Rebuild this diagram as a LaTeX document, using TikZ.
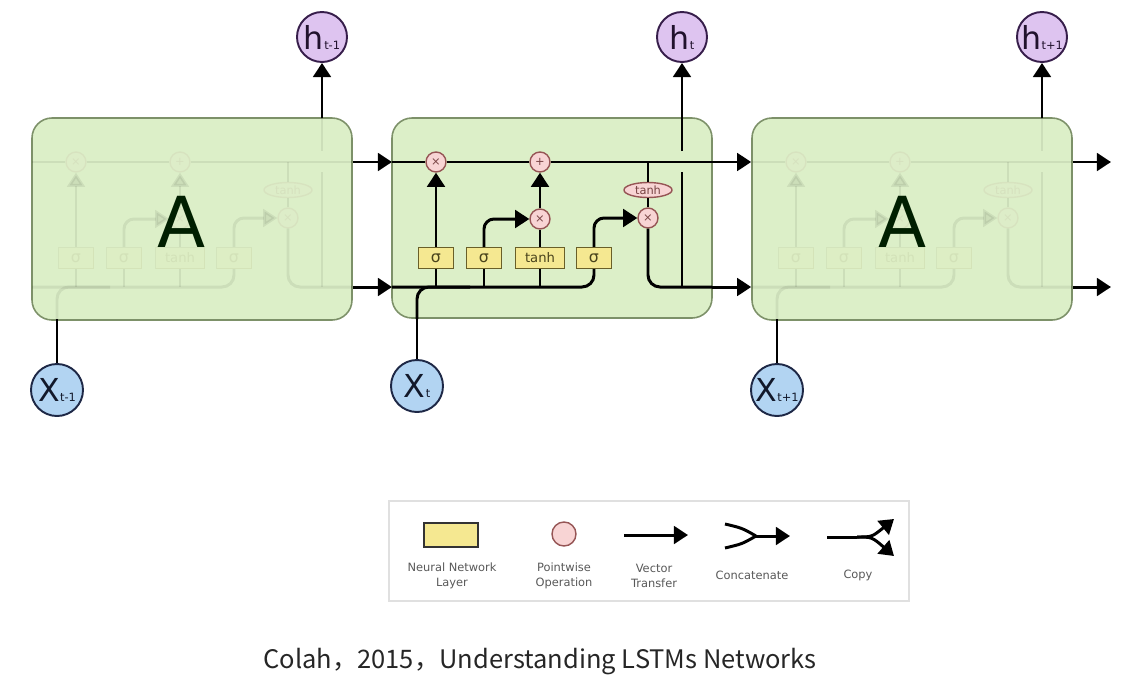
\documentclass[tikz,border=0pt]{standalone}
\usepackage{fontspec}
\setmainfont{DejaVu Sans}
\newfontfamily\cjk{Noto Sans CJK SC}
\usetikzlibrary{arrows.meta,shapes.geometric}
\newlength\pxu \setlength\pxu{0.02cm}
\definecolor{cellfill}{RGB}{220,239,200}
\definecolor{celldraw}{RGB}{125,145,105}
\definecolor{gatefill}{RGB}{245,232,145}
\definecolor{gatedraw}{RGB}{105,95,40}
\definecolor{opfill}{RGB}{248,212,212}
\definecolor{opdraw}{RGB}{150,85,85}
\definecolor{hfill}{RGB}{222,196,240}
\definecolor{hdraw}{RGB}{55,30,75}
\definecolor{xfill}{RGB}{178,212,242}
\definecolor{xdraw}{RGB}{30,40,70}
\tikzset{
  wire/.style={line width=1.7pt, draw=black},
  arr/.style={wire, -{Triangle[length=8pt,width=10pt]}},
  cellbox/.style={draw=celldraw, line width=0.9pt, fill=cellfill, rounded corners=20\pxu,
    minimum width=320\pxu, minimum height=202\pxu, inner sep=0},
  gate/.style={draw=gatedraw, line width=0.8pt, fill=gatefill, minimum width=35\pxu,
    minimum height=21\pxu, inner sep=0, text=gatedraw!70!black, font=\fontsize{9}{9}\selectfont},
  pw/.style={circle, draw=opdraw, line width=0.8pt, fill=opfill, minimum size=20\pxu,
    inner sep=0, text=opdraw!80!black, font=\fontsize{6.5}{6.5}\selectfont},
  tanhe/.style={ellipse, draw=opdraw, fill=opfill, line width=0.8pt, minimum width=48\pxu,
    minimum height=15\pxu, inner sep=0, text=opdraw!80!black, font=\fontsize{6.5}{6.5}\selectfont},
  hc/.style={circle, draw=hdraw, fill=hfill, line width=1.1pt, minimum size=50\pxu, inner sep=0,
    text=hdraw!60!black},
  xc/.style={circle, draw=xdraw, fill=xfill, line width=1.1pt, minimum size=52\pxu, inner sep=0,
    text=xdraw!60!black},
  bigA/.style={font=\fontsize{40}{40}\selectfont, text=black!88!green, inner sep=0},
  legtext/.style={font=\fontsize{6.5}{8.5}\selectfont, text=black!65, align=center, inner sep=0},
}
\newcommand\hlab[2]{{\fontsize{18}{18}\selectfont #1}\kern0.2pt{\fontsize{6.5}{6.5}\selectfont #2}}
\newcommand\cellinner{%
  \node[pw] (mf) at (436,162) {×};
  \node[pw] (ad) at (540,162) {+};
  \node[pw] (mi) at (540,219) {×};
  \node[pw] (mo) at (648,218) {×};
  \node[tanhe] (th) at (648,190) {tanh};
  \node[gate] (gf) at (436,258) {σ};
  \node[gate] (gi) at (484,258) {σ};
  \node[gate, minimum width=49\pxu, font=\fontsize{7.5}{7.5}\selectfont] (gc) at (540,258) {tanh};
  \node[gate] (go) at (594,258) {σ};
  \coordinate (cl) at (392,162);
  \coordinate (cr) at (712,162);
  \coordinate (hl) at (392,287);
  \coordinate (hr) at (712,287);
  \coordinate (xin) at (417,319);
  \coordinate (hup) at (682,118);
  \coordinate (hgapa) at (682,172);
  \coordinate (hgapb) at (682,151);
  \draw[wire] (cl) -- (mf.west);
  \draw[wire] (mf.east) -- (ad.west);
  \draw[wire] (ad.east) -- (cr);
  \draw[wire, rounded corners=12\pxu] (hl) -| (go.south);
  \draw[wire, rounded corners=12\pxu] (xin) |- (470,287);
  \draw[wire] (gf.south) -- (gf.south |- hl);
  \draw[wire] (gi.south) -- (gi.south |- hl);
  \draw[wire] (gc.south) -- (gc.south |- hl);
  \draw[arr] (gf) -- (mf);
  \draw[arr, rounded corners=10\pxu] (gi.north) |- (mi.west);
  \draw[wire] (gc) -- (mi);
  \draw[arr] (mi) -- (ad);
  \draw[arr, rounded corners=10\pxu] (go.north) |- (mo.west);
  \draw[wire] (mo.north |- cl) -- (th.north);
  \draw[wire] (th.south) -- (mo.north);
  \draw[wire, rounded corners=12\pxu] (mo.south) |- (hr);
  \draw[wire] (hup |- hr) -- (hgapa);
  \draw[wire] (hgapb) -- (hup);
}
\begin{document}
\begin{tikzpicture}[x=0.02cm, y=-0.02cm]
\useasboundingbox (0,0) rectangle (1144,677);
% cells
\node[cellbox] (Lcell) at (192,219) {};
\node[cellbox, minimum height=200\pxu] (Ccell) at (552,218) {};
\node[cellbox] (Rcell) at (912,219) {};
% faded internals
\begin{scope}[shift={(-360,0)}, name prefix=L-, opacity=0.07]
  \cellinner
\end{scope}
\begin{scope}[shift={(360,0)}, name prefix=R-, opacity=0.07]
  \cellinner
\end{scope}
\node[bigA] (LA) at (182,222) {A};
\node[bigA] (RA) at (903,222) {A};
% center cell
\cellinner
% inputs / outputs
\node[hc] (hm) at (322,37) {\hlab{h}{t-1}};
\node[hc] (ht) at (682,37) {\hlab{h}{t}};
\node[hc] (hp) at (1042,37) {\hlab{h}{t+1}};
\node[xc] (xm) at (57,390) {\hlab{X}{t-1}};
\node[xc] (xt) at (417,386) {\hlab{X}{t}};
\node[xc] (xp) at (777,390) {\hlab{X}{t+1}};
\coordinate (outc) at (1111,162);
\coordinate (outh) at (1111,287);
\draw[arr] (Lcell.east |- cl) -- (cl);
\draw[arr] (Lcell.east |- hl) -- (hl);
\draw[arr] (cr) -- (Rcell.west |- cr);
\draw[arr] (hr) -- (Rcell.west |- hr);
\draw[arr] (Rcell.east |- outc) -- (outc);
\draw[arr] (Rcell.east |- outh) -- (outh);
\draw[arr] (L-hup) -- (hm);
\draw[arr] (hup) -- (ht);
\draw[arr] (R-hup) -- (hp);
\draw[wire] (xm) -- (L-xin);
\draw[wire] (xt) -- (xin);
\draw[wire] (xp) -- (R-xin);
% legend
\node[draw=black!12, line width=0.8pt, fill=white, minimum width=520\pxu, minimum height=100\pxu, inner sep=0] (leg) at (649,551) {};
\node[draw=black!80, fill=gatefill, line width=1pt, minimum width=54\pxu, minimum height=24\pxu, inner sep=0] (lnn) at (451,535) {};
\node[circle, draw=opdraw, fill=opfill, line width=0.8pt, minimum size=24\pxu, inner sep=0] (lpw) at (564,534) {};
\coordinate (lv1) at (624,535);
\coordinate (lv2) at (688,535);
\draw[arr] (lv1) -- (lv2);
\coordinate (lc1) at (725,524);
\coordinate (lc2) at (725,548);
\coordinate (lcm) at (756,536);
\coordinate (lce) at (790,536);
\draw[wire] (lc1) .. controls (742,528) .. (lcm);
\draw[wire] (lc2) .. controls (742,544) .. (lcm);
\draw[arr] (lcm) -- (lce);
\coordinate (lp0) at (827,537);
\coordinate (lpm) at (857,537);
\coordinate (lpa) at (894,519);
\coordinate (lpb) at (894,556);
\draw[wire] (lp0) -- (lpm);
\draw[arr] (lpm) .. controls (872,537) .. (lpa);
\draw[arr] (lpm) .. controls (872,537) .. (lpb);
\node[legtext] (t1) at (452,576) {Neural Network\\Layer};
\node[legtext] (t2) at (564,576) {Pointwise\\Operation};
\node[legtext] (t3) at (654,576) {Vector\\Transfer};
\node[legtext] (t4) at (752,575) {Concatenate};
\node[legtext] (t5) at (858,575) {Copy};
% caption
\node[font=\cjk\fontsize{14.5}{16}\selectfont, text=black!85, inner sep=0] (cap) at (540,662) {Colah，2015，Understanding LSTMs Networks};
\end{tikzpicture}
\end{document}
